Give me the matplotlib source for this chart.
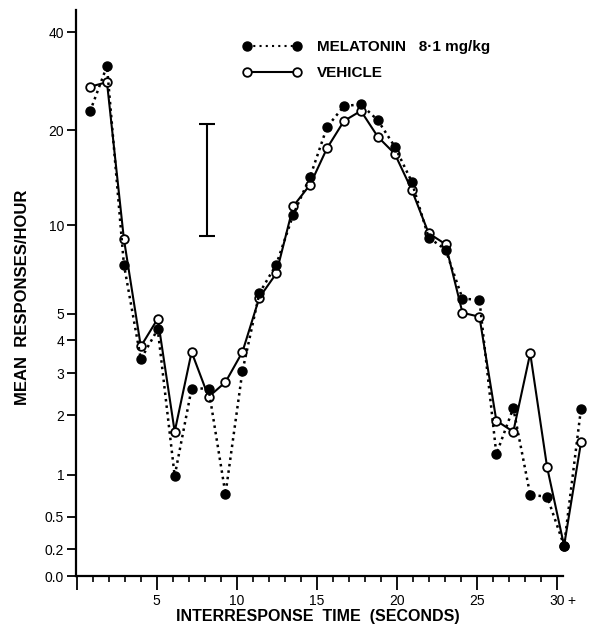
import numpy as np
import matplotlib
matplotlib.use("Agg")
import matplotlib.pyplot as plt
from matplotlib.lines import Line2D

plt.rcParams['font.family'] = ['Liberation Sans', 'DejaVu Sans']

# interresponse time bins (seconds), last bin is "30+"
bins = np.arange(1, 31)

melatonin = [22.9, 31.6, 7.4, 3.4, 4.4, 0.98, 2.6, 2.6, 0.75, 3.05,
             5.9, 7.4, 10.8, 14.3, 20.5, 23.8, 24.1, 21.5, 17.8, 13.8,
             9.1, 8.3, 5.65, 5.6, 1.3, 2.15, 0.74, 0.72, 0.23, 2.14]
vehicle = [27.3, 28.2, 9.0, 3.8, 4.8, 1.68, 3.62, 2.4, 2.76, 3.62,
           5.7, 6.9, 11.5, 13.5, 17.6, 21.4, 23.0, 19.1, 16.9, 13.0,
           9.4, 8.65, 5.04, 4.88, 1.89, 1.68, 3.58, 1.1, 0.23, 1.49]

# vertical bar drawn in the figure (range of responses)
bar_x = 7.9
bar_lo, bar_hi = 9.2, 20.9

ytick_vals = [0.0, 0.2, 0.5, 1, 2, 3, 4, 5, 10, 20, 40]
ytick_labels = ['0.0', '0.2', '0.5', '1', '2', '3', '4', '5', '10', '20', '40']
xtick_labels = ['', '5', '10', '15', '20', '25', '30']

W, H = 609, 633
fig = plt.figure(figsize=(W / 100, H / 100), dpi=100)
ax = fig.add_axes([76 / W, 57 / H, (600 - 76) / W, (623 - 57) / H])

# log(x+1) style axis used in the original
ax.set_yscale('function', functions=(lambda v: np.log10(np.asarray(v) + 1.0),
                                     lambda u: 10.0 ** np.asarray(u) - 1.0))

ax.plot(bins, vehicle, color='black', lw=1.5, ls='-', marker='o', ms=6.2,
        mfc='white', mec='black', mew=1.3, clip_on=False, zorder=3)
ax.plot(bins, melatonin, color='black', lw=1.8, ls=(0, (1, 1.6)), marker='o',
        ms=6.5, mfc='black', mec='black', clip_on=False, zorder=4)

ax.errorbar([bar_x], [bar_lo], yerr=[[0], [bar_hi - bar_lo]], fmt='none',
            ecolor='black', elinewidth=1.5, capsize=5.5, capthick=1.5)

# axis geometry (tick spacing on the original axis differs slightly from point spacing)
x0_px, step_px = 73.1, 16.93
tick0_px, tickstep_px = 76.6, 16.02
ax.set_xlim((76 - x0_px) / step_px, (600 - x0_px) / step_px)
ax.set_ylim(0, 10 ** (566 / 337) - 1)

major = [(tick0_px + tickstep_px * k - x0_px) / step_px for k in range(0, 31, 5)]
minor = [(tick0_px + tickstep_px * k - x0_px) / step_px for k in range(0, 31)]
ax.set_xticks(major)
ax.set_xticklabels(xtick_labels, fontsize=10)
ax.set_xticks(minor, minor=True)
ax.tick_params(axis='x', which='major', direction='out', length=10, width=1.3, pad=3)
ax.tick_params(axis='x', which='minor', direction='out', length=4.5, width=1.2)

ax.set_yticks(ytick_vals)
ax.set_yticklabels(ytick_labels, fontsize=10)
ax.yaxis.set_minor_locator(matplotlib.ticker.NullLocator())
ax.tick_params(axis='y', direction='out', length=6.5, width=1.3, pad=2)

for s in ['top', 'right']:
    ax.spines[s].set_visible(False)
ax.spines['left'].set_linewidth(1.6)
ax.spines['bottom'].set_linewidth(1.6)
ax.spines['bottom'].set_bounds(ax.get_xlim()[0], (563 - x0_px) / step_px)

fig.text(571 / W, 1 - 601 / H, '+', fontsize=10, ha='center', va='center')

fig.text(23 / W, 1 - 297 / H, 'MEAN  RESPONSES/HOUR', rotation=90,
         ha='center', va='center', fontsize=12, fontweight='bold')
fig.text(318 / W, 1 - 617 / H, 'INTERRESPONSE  TIME  (SECONDS)',
         ha='center', va='center', fontsize=11.5, fontweight='bold')

handles = [Line2D([], [], color='black', lw=1.5, ls=(0, (1, 2)), marker='o', ms=6.5,
                  mfc='black', mec='black'),
           Line2D([], [], color='black', lw=1.5, ls='-', marker='o', ms=6.2,
                  mfc='white', mec='black', mew=1.3)]
fig.legend(handles, ['MELATONIN   8\u00b71 mg/kg', 'VEHICLE'], loc='upper left',
           bbox_to_anchor=(242 / W, 1 - 40 / H), frameon=False, numpoints=2,
           handlelength=3.9, handletextpad=1.0, labelspacing=0.8, borderpad=0,
           borderaxespad=0, prop={'weight': 'bold', 'size': 11})

fig.savefig('out.png', dpi=100)
